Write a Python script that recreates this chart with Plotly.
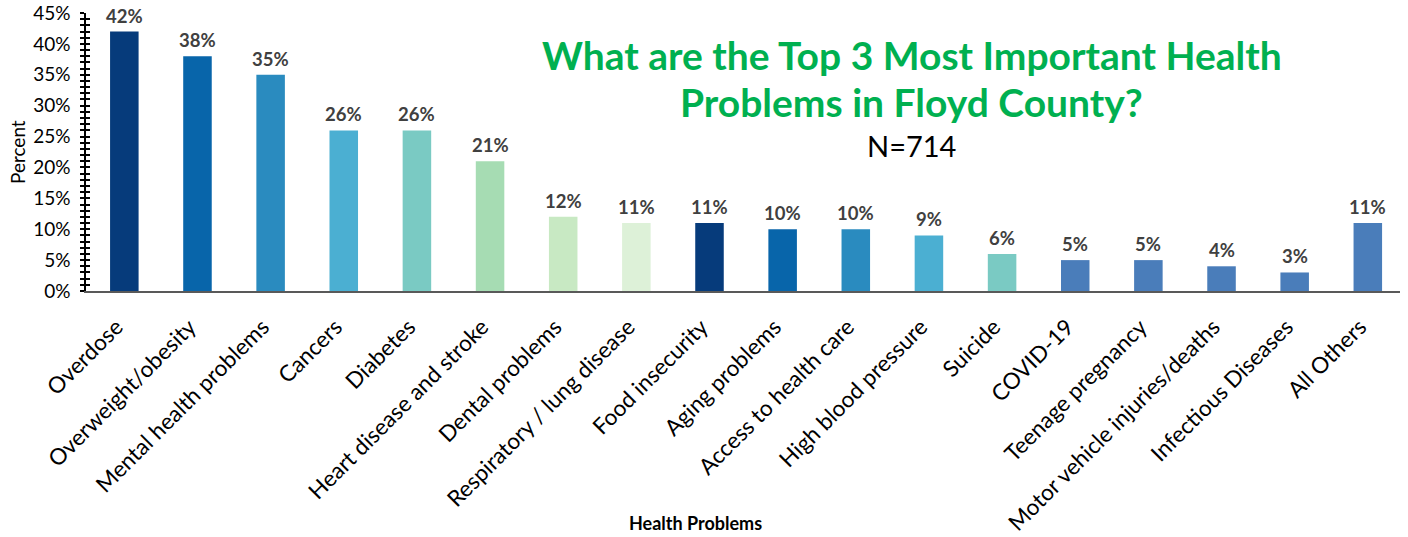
import plotly.graph_objects as go

# Survey results: share of respondents naming each health problem in their top 3
problems = [
    "Overdose", "Overweight/obesity", "Mental health problems", "Cancers", "Diabetes",
    "Heart disease and stroke", "Dental problems", "Respiratory / lung disease",
    "Food insecurity", "Aging problems", "Access to health care", "High blood pressure",
    "Suicide", "COVID-19", "Teenage pregnancy", "Motor vehicle injuries/deaths",
    "Infectious Diseases", "All Others",
]
percents = [42, 38, 35, 26, 26, 21, 12, 11, 11, 10, 10, 9, 6, 5, 5, 4, 3, 11]

bar_colors = [
    "#063B7B", "#0865AA", "#2A8BBF", "#4BAFD2", "#7ACAC3", "#A6DCB3", "#C8E9C3", "#DDF1D8",
    "#063B7B", "#0865AA", "#2A8BBF", "#4BAFD2", "#7ACAC3",
    "#4A7DBA", "#4A7DBA", "#4A7DBA", "#4A7DBA", "#4A7DBA",
]

labels = [f"{p}%" for p in percents]

FONT = "Lato"
X_CENTER = 0.6286  # horizontal centre of the title block, in paper units

fig = go.Figure()
fig.add_trace(go.Bar(
    x=problems, y=percents, marker=dict(color=bar_colors, line=dict(width=0)),
    hoverinfo="skip", showlegend=False,
))
# transparent copy on the overlay axis that carries the inner half of the tick crosses
fig.add_trace(go.Bar(
    x=problems, y=percents, yaxis="y2", opacity=0, marker=dict(color=bar_colors),
    hoverinfo="skip", showlegend=False,
))

# value labels sitting just above each bar
value_notes = [
    dict(x=cat, y=val, xref="x", yref="y", text=f"<b>{lab}</b>", showarrow=False,
         xanchor="center", yanchor="bottom", yshift=3,
         font=dict(family=FONT, size=18.5, color="#404040"))
    for cat, val, lab in zip(problems, percents, labels)
]

text_notes = [
    dict(xref="paper", yref="paper", x=X_CENTER, y=0.849, xanchor="center", yanchor="middle",
         text="<b>What are the Top 3 Most Important Health</b>", showarrow=False,
         font=dict(family=FONT, size=39, color="#00B050")),
    dict(xref="paper", yref="paper", x=X_CENTER, y=0.680, xanchor="center", yanchor="middle",
         text="<b>Problems in Floyd County?</b>", showarrow=False,
         font=dict(family=FONT, size=39, color="#00B050")),
    dict(xref="paper", yref="paper", x=X_CENTER, y=0.525, xanchor="center", yanchor="middle",
         text="N=714", showarrow=False,
         font=dict(family=FONT, size=29, color="#000000")),
    dict(xref="paper", yref="paper", x=-0.0525, y=0.5, xanchor="center", yanchor="middle",
         text="Percent", textangle=-90, showarrow=False,
         font=dict(family=FONT, size=19, color="#000000")),
    dict(xref="paper", yref="paper", x=0.4635, y=-0.8345, xanchor="center", yanchor="middle",
         text="<b>Health Problems</b>", showarrow=False,
         font=dict(family=FONT, size=18, color="#000000")),
]

fig.update_layout(
    width=1408, height=537,
    margin=dict(l=86, r=8, t=13, b=246),
    paper_bgcolor="white", plot_bgcolor="white",
    bargap=0.61,
    font=dict(family=FONT, color="#000000"),
    xaxis=dict(
        type="category", range=[-0.524, 17.44], automargin=False,
        tickangle=-45, tickfont=dict(family=FONT, size=22.5, color="#000000"),
        ticklabelstandoff=12, ticklabelshift=-8,
        showline=True, linecolor="#595959", linewidth=2, ticks="",
        showgrid=False, zeroline=False,
    ),
    yaxis=dict(
        range=[0, 45], dtick=5, ticksuffix="%", automargin=False,
        tickfont=dict(family=FONT, size=19, color="#000000"),
        ticklabelstandoff=6,
        showline=True, linecolor="#000000", linewidth=1.5,
        ticks="outside", ticklen=4, tickwidth=1.5, tickcolor="#000000",
        minor=dict(dtick=1, ticks="outside", ticklen=4, tickwidth=1.5, tickcolor="#000000"),
        showgrid=False, zeroline=False,
    ),
    yaxis2=dict(
        overlaying="y", side="left", range=[0, 45], dtick=1, automargin=False,
        ticks="inside", ticklen=4, tickwidth=1.5, tickcolor="#000000",
        showticklabels=False, showgrid=False, zeroline=False, showline=False,
    ),
    annotations=value_notes + text_notes,
)

fig.write_html("out.html")
